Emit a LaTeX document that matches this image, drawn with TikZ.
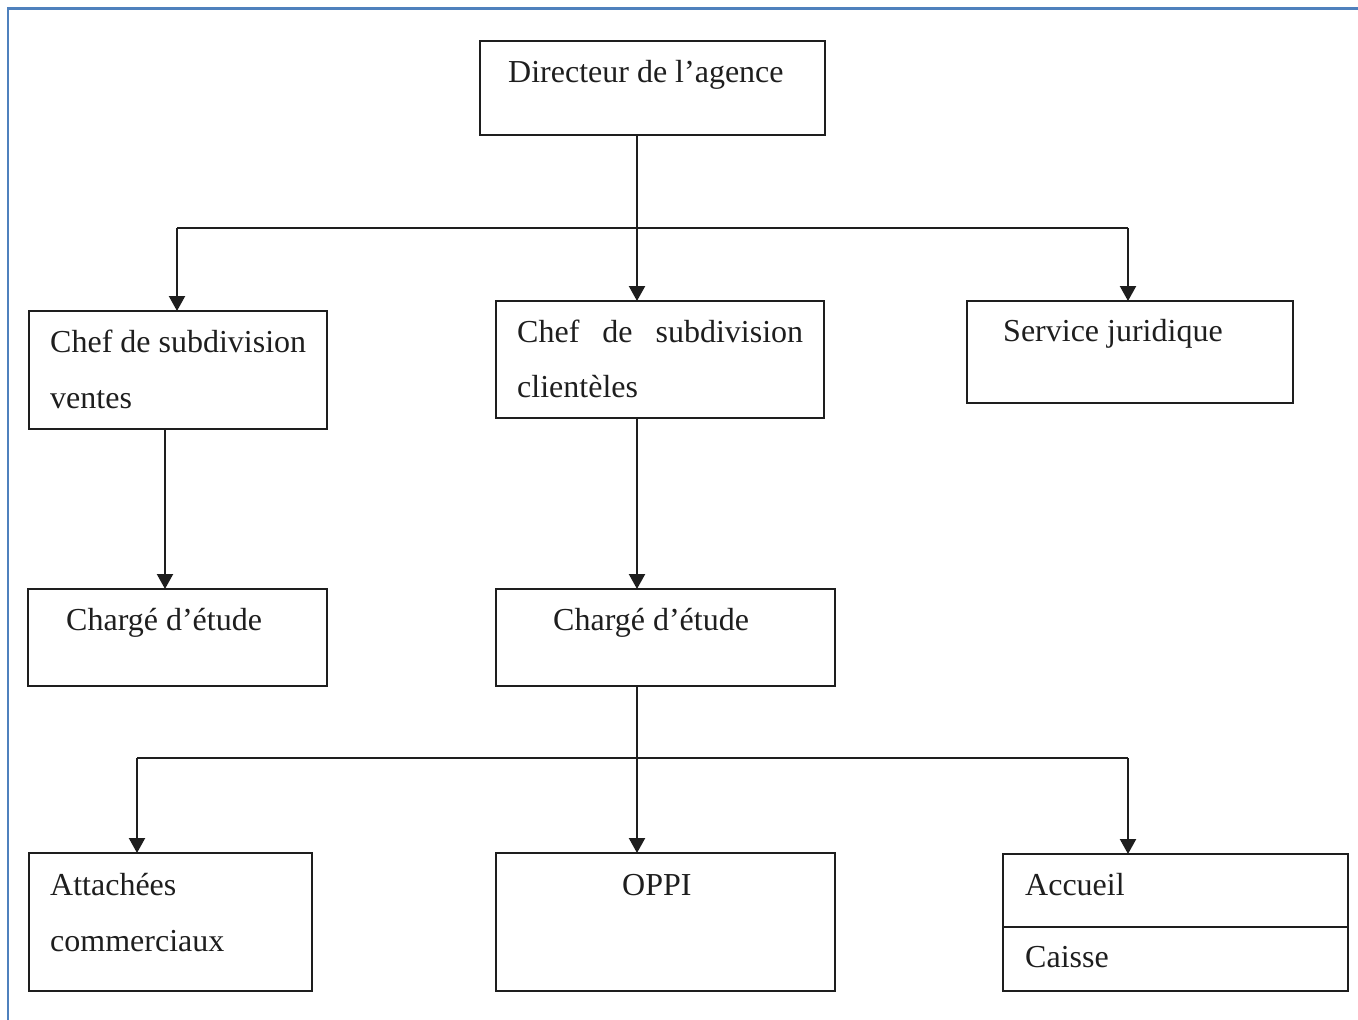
\documentclass[tikz,border=0pt]{standalone}
\usepackage{fontspec}
\setmainfont{Liberation Serif}
\usetikzlibrary{arrows.meta}

\definecolor{frameblue}{HTML}{4F81BD}
\definecolor{ink}{HTML}{1E1E1E}

\tikzset{
  unitbox/.style={draw=ink, line width=2pt, inner sep=0pt, outer sep=0pt,
                  anchor=north west},
  label/.style={anchor=base west, inner sep=0pt, text=ink,
                font=\fontsize{32}{38}\selectfont},
  link/.style={draw=ink, line width=2.2pt},
  arrowlink/.style={link, -{Triangle[width=16pt,length=15pt]}},
}

% box of given size placed by its top-left corner
\newcommand{\orgbox}[5]{%
  \node[unitbox, minimum width=#4pt, minimum height=#5pt] (#1) at (#2,#3) {};}

\begin{document}
\begin{tikzpicture}[x=1pt, y=-1pt]
  \useasboundingbox (0,0) rectangle (1358,1020);

  % page frame (top and left edges)
  \draw[frameblue, line width=2.8pt] (8,1020) -- (8,8.3) -- (1358,8.3);

  % boxes
  \orgbox{dir}{480}{41}{345}{94}
  \orgbox{ven}{29}{311}{298}{118}
  \orgbox{cli}{496}{301}{328}{117}
  \orgbox{jur}{967}{301}{326}{102}
  \orgbox{chl}{28}{589}{299}{97}
  \orgbox{chm}{496}{589}{339}{97}
  \orgbox{att}{29}{853}{283}{138}
  \orgbox{opp}{496}{853}{339}{138}
  \orgbox{acc}{1003}{854}{345}{73}
  \orgbox{cai}{1003}{927}{345}{64}

  % texts
  \node[label] (tdir) at (508,82) {Directeur de l’agence};
  \node[label] (tven1) at (50,352) {Chef de subdivision};
  \node[label] (tven2) at (50,408) {ventes};
  \node[label] (tcli1) at (517,342) {\makebox[286pt][s]{Chef de subdivision}};
  \node[label] (tcli2) at (517,397) {clientèles};
  \node[label] (tjur) at (1003,341) {Service juridique};
  \node[label] (tchl) at (66,630) {Chargé d’étude};
  \node[label] (tchm) at (553,630) {Chargé d’étude};
  \node[label] (tatt1) at (50,895) {Attachées};
  \node[label] (tatt2) at (50,951) {commerciaux};
  \node[label] (topp) at (622,895) {OPPI};
  \node[label] (tacc) at (1025,895) {Accueil};
  \node[label] (tcai) at (1025,967) {Caisse};

  % junction points
  \coordinate (top) at (637,228);
  \coordinate (topL) at (177,228);
  \coordinate (topR) at (1128,228);
  \coordinate (venx) at (165,0);
  \coordinate (low) at (637,758);
  \coordinate (lowL) at (137,758);
  \coordinate (lowR) at (1128,758);

  % upper level
  \draw[arrowlink] (dir.south -| top) -- (cli.north -| top);
  \draw[link] (topL) -- (topR);
  \draw[arrowlink] (topL) -- (ven.north -| topL);
  \draw[arrowlink] (topR) -- (jur.north -| topR);

  % middle level
  \draw[arrowlink] (ven.south -| venx) -- (chl.north -| venx);
  \draw[arrowlink] (cli.south -| top) -- (chm.north -| top);

  % lower level
  \draw[arrowlink] (chm.south -| low) -- (opp.north -| low);
  \draw[link] (lowL) -- (lowR);
  \draw[arrowlink] (lowL) -- (att.north -| lowL);
  \draw[arrowlink] (lowR) -- (acc.north -| lowR);
\end{tikzpicture}
\end{document}
